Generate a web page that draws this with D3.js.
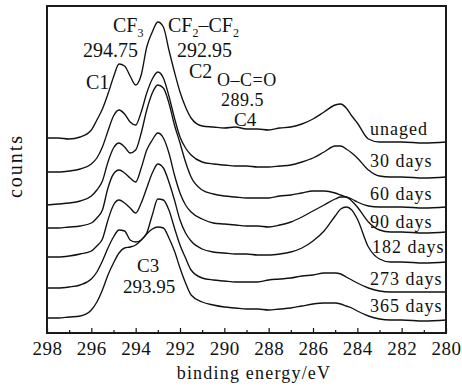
<!DOCTYPE html>
<html>
<head>
<meta charset="utf-8">
<script src="https://cdn.jsdelivr.net/npm/d3@7"></script>
<style>
  html, body { margin: 0; padding: 0; background: #fff; }
  svg { display: block; font-family: "Liberation Serif", "Times New Roman", serif; }
  text { font-family: "Liberation Serif", "Times New Roman", serif; fill: #111; }
</style>
</head>
<body>
<svg id="chart" width="462" height="390"></svg>
<script>
// Binding energy grid (eV), shared by every spectrum
const energy = [298, 297.5, 297, 296.5, 296, 295.75, 295.5, 295.25, 295, 294.75,
  294.5, 294.25, 294, 293.75, 293.5, 293.25, 293, 292.75, 292.5, 292.25,
  292, 291.75, 291.5, 291, 290.5, 290, 289.5, 289, 288.5, 288,
  287.5, 287, 286.5, 286, 285.5, 285, 284.75, 284.5, 284.25, 284,
  283.5, 283, 282.5, 282, 281, 280];

// C1s counts (a.u., stacked with offsets) for each ageing time
const unaged = [195, 195, 194, 196, 203, 213, 224, 239, 256, 269, 267, 257, 248, 258, 286, 301, 311, 306, 283, 261,
  241, 226, 215, 207, 206, 205, 206, 204, 204, 203, 205, 206, 209, 214, 221, 228, 229, 225, 217, 210,
  194, 191, 191, 191, 190, 191];
const days30 = [161, 161, 162, 164, 169, 175, 186, 202, 217, 223, 219, 211, 208, 221, 240, 254, 261, 255, 237, 215,
  196, 185, 178, 171, 169, 168, 167, 167, 166, 166, 167, 168, 171, 175, 181, 187, 187, 184, 180, 175,
  163, 157, 156, 156, 155, 156];
const days60 = [128, 129, 130, 132, 137, 143, 152, 171, 185, 190, 186, 180, 183, 200, 223, 240, 248, 245, 230, 208,
  190, 171, 156, 143, 139, 137, 136, 135, 135, 135, 137, 138, 140, 142, 142, 140, 138, 136, 134, 131,
  127, 126, 126, 126, 125, 126];
const days90 = [105, 105, 106, 107, 110, 115, 123, 145, 159, 163, 160, 155, 151, 165, 183, 193, 200, 195, 180, 158,
  140, 128, 121, 114, 110, 109, 108, 107, 107, 106, 108, 111, 116, 122, 128, 134, 136, 136, 132, 126,
  111, 103, 101, 101, 100, 101];
const days182 = [76, 76, 77, 79, 82, 87, 94, 113, 128, 133, 130, 125, 120, 130, 145, 160, 169, 165, 151, 133,
  113, 100, 92, 84, 81, 80, 79, 79, 78, 78, 79, 81, 85, 92, 102, 117, 124, 126, 123, 114,
  86, 74, 71, 71, 70, 71];
const days273 = [45, 45, 46, 48, 54, 61, 72, 85, 96, 103, 102, 93, 91, 93, 100, 118, 134, 133, 123, 105,
  88, 75, 63, 55, 53, 52, 51, 51, 51, 53, 54, 55, 57, 58, 60, 60, 59, 56, 53, 50,
  45, 42, 41, 41, 41, 41];
const days365 = [15, 15, 16, 17, 23, 31, 43, 58, 70, 80, 85, 86, 88, 93, 99, 104, 106, 105, 95, 82,
  65, 50, 38, 31, 28, 26, 25, 24, 24, 23, 24, 25, 27, 29, 30, 30, 29, 27, 25, 22,
  17, 14, 13, 13, 12, 13];

const seriesNames = ["unaged", "30 days", "60 days", "90 days", "182 days", "273 days", "365 days"];
const seriesValues = [unaged, days30, days60, days90, days182, days273, days365];

// Axis ticks
const majorTicks = [298, 296, 294, 292, 290, 288, 286, 284, 282, 280];
const minorTicks = [297, 295, 293, 291, 289, 287, 285, 283, 281];

// Layout
const plot = { left: 47, right: 446, top: 6, bottom: 333 };
const svg = d3.select("#chart");

const x = d3.scaleLinear().domain([298, 280]).range([plot.left, plot.right]);
const y = d3.scaleLinear().domain([0, 327]).range([plot.bottom, plot.top]);

const line = d3.line()
  .x((d, i) => x(energy[i]))
  .y(d => y(d))
  .curve(d3.curveMonotoneX);

// Spectra
svg.append("g")
  .selectAll("path")
  .data(seriesValues)
  .join("path")
  .attr("d", d => line(d))
  .attr("fill", "none")
  .attr("stroke", "#111")
  .attr("stroke-width", 1.35)
  .attr("stroke-linejoin", "round");

// Bottom axis: inward ticks, labelled every 2 eV
const axisMajor = d3.axisBottom(x)
  .tickValues(majorTicks)
  .tickFormat(d3.format("d"))
  .tickSizeInner(-5)
  .tickSizeOuter(0)
  .tickPadding(9);
const gx = svg.append("g").attr("transform", `translate(0,${plot.bottom})`).call(axisMajor);
gx.attr("font-family", "Liberation Serif");
gx.select(".domain").remove();
gx.selectAll("line").attr("stroke", "#111").attr("stroke-width", 1.2);
gx.selectAll("text")
  .attr("fill", "#111")
  .style("font-family", "'Liberation Serif', serif")
  .style("font-size", "19px")
  .style("letter-spacing", "0.5px");

const axisMinor = d3.axisBottom(x)
  .tickValues(minorTicks)
  .tickFormat("")
  .tickSizeInner(-3)
  .tickSizeOuter(0);
const gm = svg.append("g").attr("transform", `translate(0,${plot.bottom})`).call(axisMinor);
gm.select(".domain").remove();
gm.selectAll("line").attr("stroke", "#111").attr("stroke-width", 1.2);

// Frame
svg.append("rect")
  .attr("x", plot.left)
  .attr("y", plot.top)
  .attr("width", plot.right - plot.left)
  .attr("height", plot.bottom - plot.top)
  .attr("fill", "none")
  .attr("stroke", "#1a1a1a")
  .attr("stroke-width", 2);

// Series labels at the right end of each trace
const seriesLabelBaseline = [135, 167, 200, 228, 253, 285, 312];
svg.append("g")
  .selectAll("text")
  .data(seriesNames)
  .join("text")
  .attr("x", (d, i) => i === 4 ? 372 : 370)
  .attr("y", (d, i) => seriesLabelBaseline[i])
  .style("font-size", "18px")
  .style("letter-spacing", "1px")
  .text(d => d);

// Peak annotations
const ann = svg.append("g").style("font-size", "20px");

const cf3 = ann.append("text").attr("x", 113).attr("y", 32);
cf3.append("tspan").text("CF");
cf3.append("tspan").attr("dy", 5).style("font-size", "12px").text("3");

ann.append("text").attr("x", 83).attr("y", 57).text("294.75");
ann.append("text").attr("x", 86).attr("y", 89).text("C1");

const cf2 = ann.append("text").attr("x", 168).attr("y", 32);
cf2.append("tspan").text("CF");
cf2.append("tspan").attr("dy", 5).style("font-size", "12px").text("2");
cf2.append("tspan").attr("dy", -5).text("–CF");
cf2.append("tspan").attr("dy", 5).style("font-size", "12px").text("2");

ann.append("text").attr("x", 177).attr("y", 57).text("292.95");
ann.append("text").attr("x", 189).attr("y", 78).text("C2");

ann.append("text").attr("x", 217).attr("y", 86).style("font-size", "18px").style("letter-spacing", "0.5px").text("O–C=O");
ann.append("text").attr("x", 221).attr("y", 106).style("font-size", "18px").style("letter-spacing", "0.5px").text("289.5");
ann.append("text").attr("x", 234).attr("y", 126).style("font-size", "19px").text("C4");

ann.append("text").attr("x", 137).attr("y", 272).style("font-size", "19px").text("C3");
ann.append("text").attr("x", 123).attr("y", 293).style("font-size", "19px").text("293.95");

// Axis titles
svg.append("text")
  .attr("x", 254)
  .attr("y", 379)
  .attr("text-anchor", "middle")
  .style("font-size", "18px")
  .style("letter-spacing", "1.2px")
  .text("binding energy/eV");

svg.append("text")
  .attr("transform", "translate(22,166) rotate(-90)")
  .attr("text-anchor", "middle")
  .style("font-size", "20px")
  .style("letter-spacing", "2px")
  .text("counts");
</script>
</body>
</html>
